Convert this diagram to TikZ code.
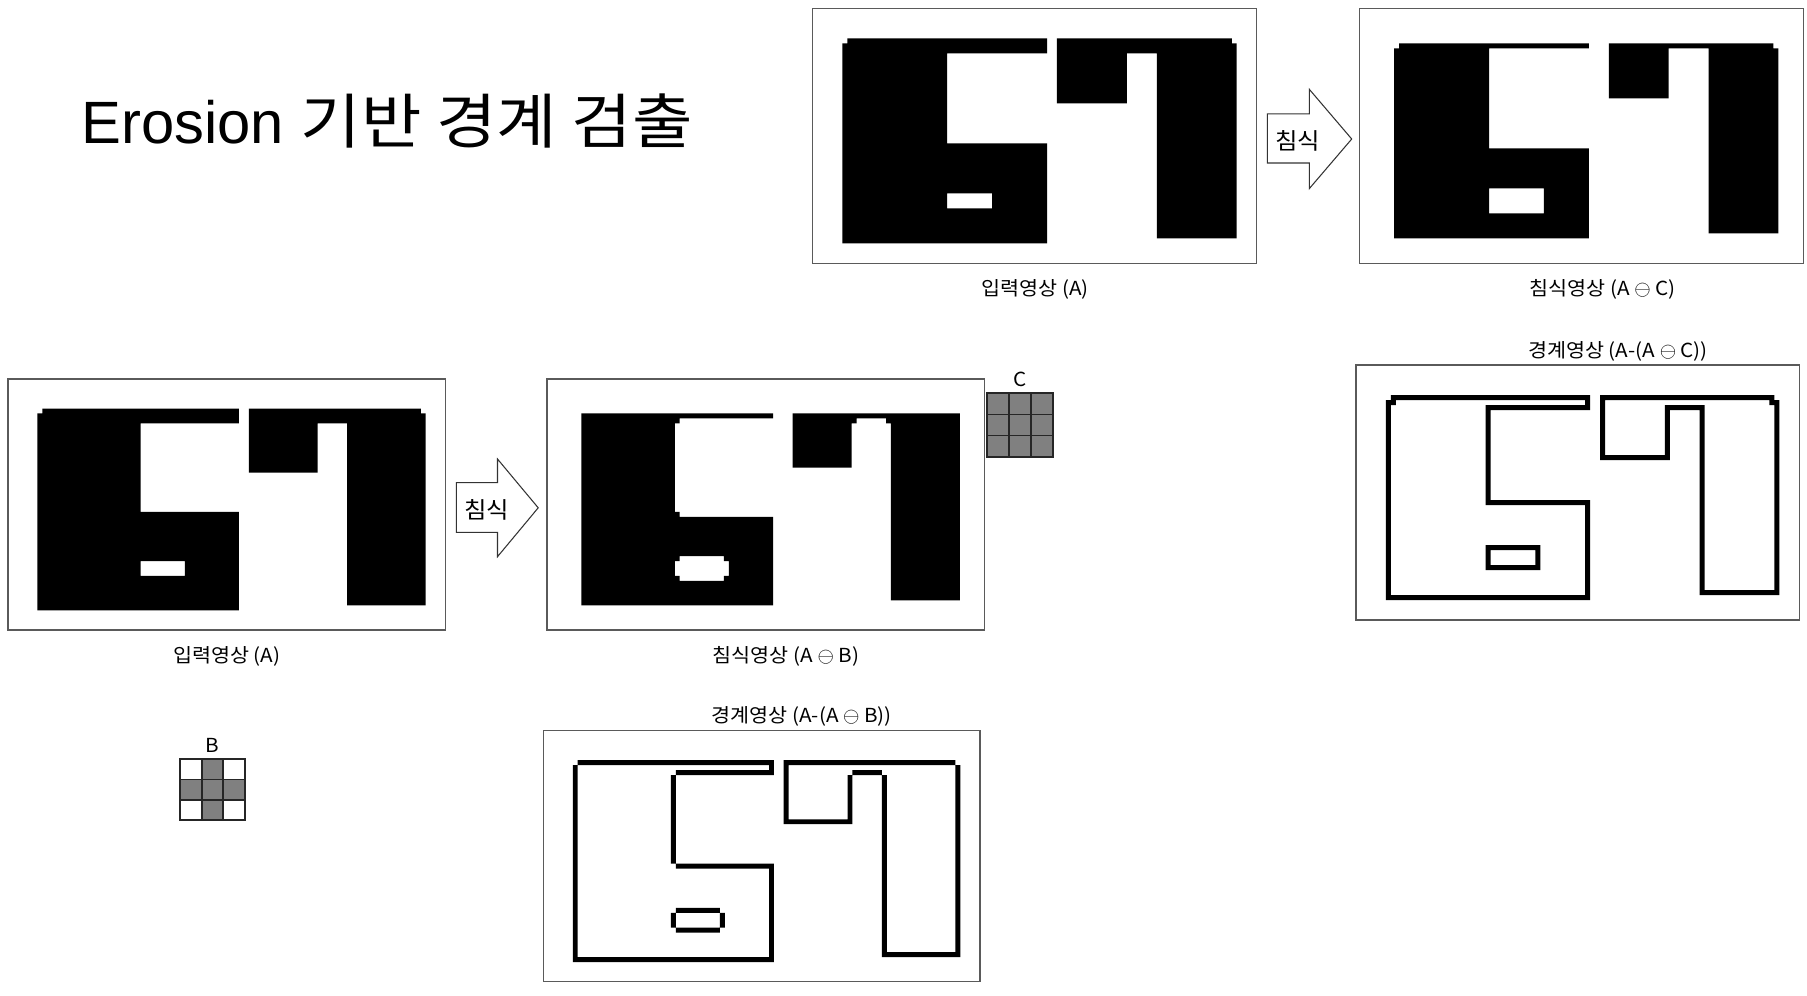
\documentclass[tikz,border=0pt]{standalone}
\usepackage{fontspec}
\setmainfont{Noto Sans CJK KR}[FakeStretch=1.07]
\newfontfamily\latinfont{Liberation Sans}
\newfontfamily\titlefont{Noto Sans CJK KR}[FakeStretch=1.1]
\usetikzlibrary{positioning}
\definecolor{framegray}{RGB}{90,90,90}
\definecolor{cellgray}{RGB}{128,128,128}

\newdimen\pxu
\pxu=0.02cm

% binary images on an 89 x 51 pixel grid, y pointing down
\newcommand{\digitsSrc}{%
  (7,6) -- (47,6) -- (47,9) -- (27,9) -- (27,27) -- (47,27) -- (47,47) -- (6,47) -- (6,7) -- (7,7) -- cycle
  (27,37) rectangle (36,40)
  (49,6) -- (84,6) -- (84,7) -- (85,7) -- (85,46) -- (69,46) -- (69,9) -- (63,9) -- (63,19) -- (49,19) -- cycle}
\newcommand{\digitsEroB}{%
  (7,7) -- (46,7) -- (46,8) -- (27,8) -- (27,9) -- (26,9) -- (26,27) -- (27,27) -- (27,28) -- (46,28) -- (46,46) -- (7,46) -- cycle
  (27,36) -- (36,36) -- (36,37) -- (37,37) -- (37,40) -- (36,40) -- (36,41) -- (27,41) -- (27,40) -- (26,40) -- (26,37) -- (27,37) -- cycle
  (50,7) -- (84,7) -- (84,45) -- (70,45) -- (70,9) -- (69,9) -- (69,8) -- (63,8) -- (63,9) -- (62,9) -- (62,18) -- (50,18) -- cycle}
\newcommand{\digitsEroC}{%
  (8,7) -- (46,7) -- (46,8) -- (26,8) -- (26,28) -- (46,28) -- (46,46) -- (7,46) -- (7,8) -- (8,8) -- cycle
  (26,36) rectangle (37,41)
  (50,7) -- (83,7) -- (83,8) -- (84,8) -- (84,45) -- (70,45) -- (70,8) -- (62,8) -- (62,18) -- (50,18) -- cycle}
\newcommand{\erop}{{\fontsize{13}{13}\selectfont$\ominus$}}

\tikzset{
  panel/.style={draw=framegray, line width=0.8pt, fill=white, inner sep=0pt, outer sep=0pt, anchor=north west},
  caption/.style={font=\fontsize{11}{13}\selectfont, inner sep=0pt},
  blockarrow/.style={draw=black!80, line width=0.6pt, fill=white, line join=miter},
  arrowtext/.style={font=\fontsize{13}{15}\selectfont, inner sep=0pt},
  cellbox/.style 2 args={draw=black!85, line width=1pt, inner sep=0pt, outer sep=0pt, minimum width=#1\pxu, minimum height=#2\pxu}
}

\begin{document}
\begin{tikzpicture}[x=0.02cm, y=-0.02cm]
\path[fill=white, use as bounding box] (0,0) rectangle (1807,995);

% Title
\node[anchor=base west, inner sep=0pt, font=\fontsize{34}{40}\titlefont] (title) at (81.3,143.3) {{\latinfont Erosion }기반 경계 검출};

% Top row: erosion by C
\node[panel, minimum width=444.4\pxu, minimum height=255\pxu] (srcTop) at (812.3,8.3) {};
\begin{scope}[shift={(srcTop.north west)}, xscale=444.4/89, yscale=255/51]
  \fill[even odd rule] \digitsSrc;
\end{scope}
\node[caption] (srcTopCap) at (1035,289.5) {입력영상 (A)};

\draw[blockarrow] (1267.3,113.8) -- (1309.3,113.8) -- (1309.3,89.3) -- (1351.7,139) -- (1309.3,188.6) -- (1309.3,163) -- (1267.3,163) -- cycle;
\node[arrowtext] (eroTopTxt) at (1297.5,140.5) {침식};

\node[panel, minimum width=444\pxu, minimum height=255\pxu] (eroC) at (1359.3,8.3) {};
\begin{scope}[shift={(eroC.north west)}, xscale=444/89, yscale=255/51]
  \fill[even odd rule] \digitsEroC;
\end{scope}
\node[caption] (eroCCap) at (1602.5,289.5) {침식영상 (A \erop{} C)};

% Boundary with C
\node[caption] (bndCCap) at (1618,351.7) {경계영상 (A-(A \erop{} C))};
\node[panel, minimum width=443.3\pxu, minimum height=255\pxu] (bndC) at (1356,365) {};
\begin{scope}[shift={(bndC.north west)}, xscale=443.3/89, yscale=255/51]
  \fill[even odd rule] \digitsSrc \digitsEroC;
\end{scope}

% Second row: erosion by B
\node[panel, minimum width=437.5\pxu, minimum height=251\pxu] (srcBot) at (7.9,379) {};
\begin{scope}[shift={(srcBot.north west)}, xscale=437.5/89, yscale=251/51]
  \fill[even odd rule] \digitsSrc;
\end{scope}
\node[caption] (srcBotCap) at (226.8,656) {입력영상 (A)};

\draw[blockarrow] (456.4,482.7) -- (497.5,482.7) -- (497.5,459) -- (538.2,507.8) -- (497.5,556.7) -- (497.5,532.3) -- (456.4,532.3) -- cycle;
\node[arrowtext] (eroBotTxt) at (486.5,510) {침식};

\node[panel, minimum width=437.2\pxu, minimum height=251\pxu] (eroB) at (547.1,379) {};
\begin{scope}[shift={(eroB.north west)}, xscale=437.2/89, yscale=251/51]
  \fill[even odd rule] \digitsEroB;
\end{scope}
\node[caption] (eroBCap) at (786,656.7) {침식영상 (A \erop{} B)};

% Structuring element C
\foreach \c in {0,1,2}
  \foreach \r in {0,1,2}
    \node[cellbox={22.2}{21.13}, fill=cellgray] (C\c\r) at (997.8+22.2*\c, 403.9+21.13*\r) {};
\node[caption, above=3.5pt of C10] (labC) {C};

% Structuring element B
\foreach \c/\r/\f in {0/0/white,1/0/cellgray,2/0/white,0/1/cellgray,1/1/cellgray,2/1/cellgray,0/2/white,1/2/cellgray,2/2/white}
  \node[cellbox={21.67}{20.33}, fill=\f] (B\c\r) at (190.8+21.67*\c, 769.2+20.33*\r) {};
\node[caption, above=3.5pt of B10] (labB) {B};

% Boundary with B
\node[caption] (bndBCap) at (801.7,716.7) {경계영상 (A-(A \erop{} B))};
\node[panel, minimum width=436.7\pxu, minimum height=251\pxu] (bndB) at (543.3,730.7) {};
\begin{scope}[shift={(bndB.north west)}, xscale=436.7/89, yscale=251/51]
  \fill[even odd rule] \digitsSrc \digitsEroB;
\end{scope}

\end{tikzpicture}
\end{document}
